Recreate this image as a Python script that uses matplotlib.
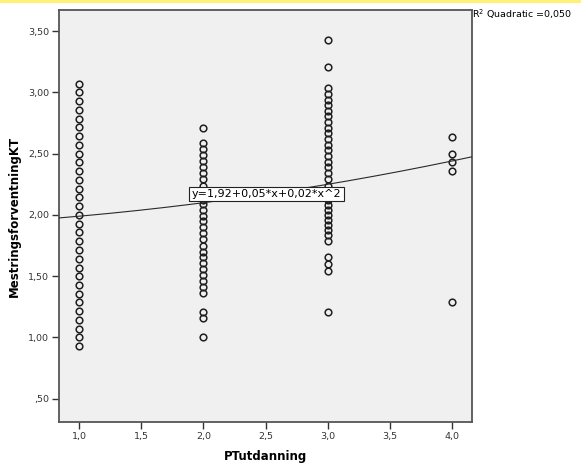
import numpy as np
import matplotlib
matplotlib.use("Agg")
import matplotlib.pyplot as plt
from matplotlib.patches import Rectangle

# PTutdanning groups and the MestringsforventningKT scores observed in each
group_1 = [round(k / 14, 3) for k in range(13, 44)]
group_2 = [2.71, 2.59, 2.54, 2.49, 2.44, 2.39, 2.34, 2.29, 2.24, 2.17, 2.12,
           2.09, 2.04, 1.99, 1.95, 1.90, 1.85, 1.80, 1.75, 1.70, 1.66, 1.61,
           1.56, 1.51, 1.46, 1.41, 1.36, 1.21, 1.16, 1.00]
group_3 = [3.43, 3.21, 3.04, 2.99, 2.94, 2.90, 2.85, 2.81, 2.76, 2.71, 2.67,
           2.62, 2.57, 2.53, 2.48, 2.43, 2.39, 2.34, 2.29, 2.24, 2.17, 2.12,
           2.08, 2.04, 2.00, 1.96, 1.92, 1.88, 1.84, 1.79, 1.66, 1.60, 1.54,
           1.21]
group_4 = [2.64, 2.50, 2.43, 2.36, 1.29]
groups = [1.0, 2.0, 3.0, 4.0]
scores = [group_1, group_2, group_3, group_4]

# quadratic fit y = b0 + b1*x + b2*x^2
b0, b1, b2 = 1.92, 0.05, 0.02
r2 = 0.050

x_ticks = [1.0, 1.5, 2.0, 2.5, 3.0, 3.5, 4.0]
x_tick_labels = ["1,0", "1,5", "2,0", "2,5", "3,0", "3,5", "4,0"]
y_ticks = [0.5, 1.0, 1.5, 2.0, 2.5, 3.0, 3.5]
y_tick_labels = [",50", "1,00", "1,50", "2,00", "2,50", "3,00", "3,50"]

fig = plt.figure(figsize=(5.81, 4.68), dpi=100)
fig.patch.set_facecolor("white")
ax = fig.add_axes([59 / 581, 1 - 422 / 468, (471.7 - 59) / 581, (422 - 10) / 468])
ax.set_facecolor("#f0f0f0")

# strip across the top edge
fig.patches.append(Rectangle((0, 1 - 3 / 468), 1, 3 / 468, transform=fig.transFigure,
                             facecolor="#fff176", edgecolor="none", zorder=0))

ax.set_xlim(0.836, 4.161)
ax.set_ylim(0.310, 3.673)

for gx, ys in zip(groups, scores):
    ax.plot([gx] * len(ys), ys, linestyle="none", marker="o", markersize=4.8,
            markerfacecolor="none", markeredgecolor="#1e1e1e", markeredgewidth=1.1,
            zorder=3)

xs = np.linspace(0.836, 4.161, 300)
ax.plot(xs, b0 + b1 * xs + b2 * xs ** 2, color="#2a2a2a", linewidth=0.8, zorder=4)

ax.text(2.508, 2.171, "y=1,92+0,05*x+0,02*x^2", ha="center", va="center",
        fontsize=8, color="black", zorder=5,
        bbox=dict(boxstyle="square,pad=0.2", facecolor="white", edgecolor="#222222",
                  linewidth=0.8))

fig.text(472 / 581, 1 - 14 / 468, "R$^2$ Quadratic =0,050", ha="left", va="center",
         fontsize=6.8, color="black")

ax.set_xticks(x_ticks)
ax.set_xticklabels(x_tick_labels, fontsize=6.8, color="#333333")
ax.set_yticks(y_ticks)
ax.set_yticklabels(y_tick_labels, fontsize=6.8, color="#333333")
ax.tick_params(axis="both", direction="out", length=5, width=1.0, color="#333333", pad=2)
ax.tick_params(top=False, right=False)

for side in ["left", "right", "top", "bottom"]:
    ax.spines[side].set_color("#555555")
    ax.spines[side].set_linewidth(1.3)

ax.set_xlabel("PTutdanning", fontsize=8.5, fontweight="bold", labelpad=7)
ax.set_ylabel("MestringsforventningKT", fontsize=8.5, fontweight="bold", labelpad=5)

fig.savefig("out.png", dpi=100)
